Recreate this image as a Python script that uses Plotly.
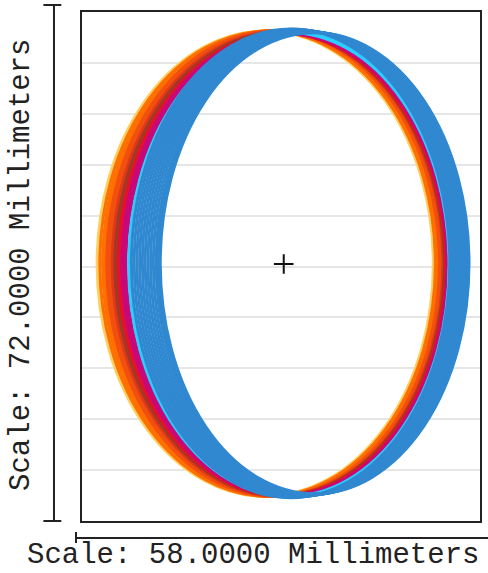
import plotly.graph_objects as go

# Scale of the view (millimetres)
x_extent = 58.0
y_extent = 72.0
grid_step = 7.2

# Ring outlines: colour, left/right edge (mm), top/bottom (mm)
ring_colors = (["#ffd060"] * 2 + ["#ff7000"] * 3 + ["#f25010"] * 3 + ["#e03818"] * 2 + ["#a03a26"] * 2
               + ["#e8102a"] * 2 + ["#c8087a"] * 3 + ["#28d0ff"] * 2 + ["#3088d0"] * 12)
ring_left = [2.2, 2.4,
             2.6, 3.0, 3.3, 3.6, 3.9, 4.2,
             4.4, 4.6,
             4.8, 5.0,
             5.3, 5.5,
             5.8, 6.1, 6.4,
             6.8, 7.0,
             7.2, 7.6, 8.0, 8.4, 8.8, 9.2, 9.6, 10.0, 10.4, 10.8, 11.1, 11.4]
ring_right = [51.2, 51.3,
              51.5, 51.7, 51.9, 52.1, 52.3, 52.5,
              52.6, 52.7,
              52.8, 52.9,
              53.0, 53.1,
              53.2, 53.3, 53.4,
              53.5, 53.55,
              53.6, 53.85, 54.1, 54.35, 54.6, 54.85, 55.1, 55.35, 55.6, 55.85, 56.1, 56.4]
ring_top = [69.3, 69.3,
            69.3, 69.3, 69.3, 69.3, 69.3, 69.3,
            69.2, 69.2,
            69.1, 69.1,
            69.0, 69.0,
            69.0, 69.0, 69.0,
            69.1, 69.2,
            69.6, 69.55, 69.5, 69.45, 69.4, 69.35, 69.3, 69.25, 69.2, 69.15, 69.1, 69.05]
ring_bottom = [3.5, 3.5,
               3.5, 3.5, 3.5, 3.5, 3.5, 3.5,
               3.55, 3.55,
               3.6, 3.6,
               3.6, 3.6,
               3.6, 3.6, 3.6,
               3.5, 3.4,
               3.3, 3.35, 3.4, 3.45, 3.5, 3.55, 3.6, 3.65, 3.7, 3.75, 3.8, 3.85]

center_x = [29.4]
center_y = [36.35]

x_label = "Scale: 58.0000 Millimeters"
y_label = "Scale: 72.0000 Millimeters"

fig = go.Figure()

shapes = []
for c, l, r, t, b in zip(ring_colors, ring_left, ring_right, ring_top, ring_bottom):
    shapes.append(dict(type="circle", xref="x", yref="y", x0=l, x1=r, y0=b, y1=t,
                       line=dict(color=c, width=3), layer="above"))

# scale bars outside plot
bar = dict(color="#222222", width=2)
shapes += [
    dict(type="line", xref="paper", yref="paper", x0=-0.0704, x1=-0.0704, y0=0.0, y1=1.0138, line=bar),
    dict(type="line", xref="paper", yref="paper", x0=-0.097, x1=-0.052, y0=1.0138, y1=1.0138, line=bar),
    dict(type="line", xref="paper", yref="paper", x0=-0.097, x1=-0.052, y0=0.0, y1=0.0, line=bar),
    dict(type="line", xref="paper", yref="paper", x0=-0.0151, x1=1.03, y0=-0.0334, y1=-0.0334, line=bar),
    dict(type="line", xref="paper", yref="paper", x0=-0.0151, x1=-0.0151, y0=-0.0216, y1=-0.0432, line=bar),
]

fig.add_trace(go.Scatter(x=center_x, y=center_y, mode="markers",
                         marker=dict(symbol="cross-thin", size=14,
                                     line=dict(color="#111111", width=2)),
                         hoverinfo="skip", showlegend=False))

grid_vals = [grid_step * i for i in range(1, 10)]

fig.update_layout(
    width=488, height=573,
    margin=dict(l=82, r=8, t=12, b=52, autoexpand=False),
    paper_bgcolor="white", plot_bgcolor="white",
    shapes=shapes,
    showlegend=False,
    xaxis=dict(range=[0, x_extent], showgrid=False, zeroline=False, showticklabels=False,
               ticks="", showline=True, linecolor="#222222", linewidth=2, mirror=True),
    yaxis=dict(range=[0, y_extent], tickvals=grid_vals, showgrid=True, gridcolor="#e6e6e6",
               gridwidth=1.5, zeroline=False, showticklabels=False, ticks="",
               showline=True, linecolor="#222222", linewidth=2, mirror=True),
    annotations=[
        dict(text=x_label, xref="paper", yref="paper", x=0.4296, y=-0.067,
             xanchor="center", yanchor="middle", showarrow=False,
             font=dict(family="Liberation Mono", size=29, color="#222222")),
        dict(text=y_label, xref="paper", yref="paper", x=-0.1508, y=0.503,
             xanchor="center", yanchor="middle", showarrow=False, textangle=-90,
             font=dict(family="Liberation Mono", size=29, color="#222222")),
    ],
)

fig.write_html("out.html", config={"displayModeBar": False},
               post_script="document.body.style.margin='0';document.body.style.overflow='hidden';")
